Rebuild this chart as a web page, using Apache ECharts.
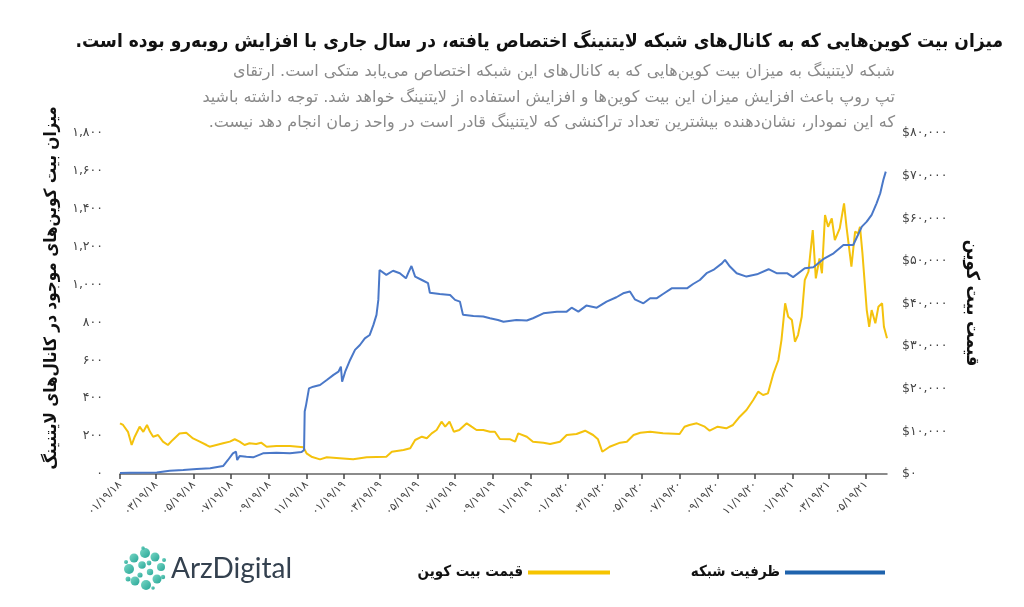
<!DOCTYPE html>
<html>
<head>
<meta charset="utf-8">
<script src="https://cdn.jsdelivr.net/npm/echarts@6/dist/echarts.min.js"></script>
<style>html,body{margin:0;padding:0;background:#fff}#c{width:1024px;height:607px}</style>
</head>
<body>
<div id="c"></div>
<script>
// ---------- DATA ----------
const titleText = 'میزان بیت کوین‌هایی که به کانال‌های شبکه لایتنینگ اختصاص یافته، در سال جاری با افزایش روبه‌رو بوده است.';
const subtitleLines = [
  'شبکه لایتنینگ به میزان بیت کوین‌هایی که به کانال‌های این شبکه اختصاص می‌یابد متکی است. ارتقای',
  'تپ روپ باعث افزایش میزان این بیت کوین‌ها و افزایش استفاده از لایتنینگ خواهد شد. توجه داشته باشید',
  'که این نمودار، نشان‌دهنده بیشترین تعداد تراکنشی که لایتنینگ قادر است در واحد زمان انجام دهد نیست.'
];
const leftAxisName = 'میزان بیت کوین‌های موجود در کانال‌های لایتنینگ';
const rightAxisName = 'قیمت بیت کوین';
const capacityName = 'ظرفیت شبکه';
const priceName = 'قیمت بیت کوین';
const brandName = 'ArzDigital';

const xStart = '2018-01-19';
const xEnd = '2021-06-22';
const tickDates = ['2018-01-19','2018-03-19','2018-05-19','2018-07-19','2018-09-19','2018-11-19',
  '2019-01-19','2019-03-19','2019-05-19','2019-07-19','2019-09-19','2019-11-19',
  '2020-01-19','2020-03-19','2020-05-19','2020-07-19','2020-09-19','2020-11-19',
  '2021-01-19','2021-03-19','2021-05-19'];
const leftTicks = [0, 200, 400, 600, 800, 1000, 1200, 1400, 1600, 1800];
const rightTicks = [0, 10000, 20000, 30000, 40000, 50000, 60000, 70000, 80000];

const capDates = ['2018-01-19','2018-02-04','2018-03-20','2018-04-10','2018-05-02','2018-05-24','2018-06-15','2018-07-06','2018-07-14','2018-07-22','2018-07-27','2018-07-29','2018-08-02','2018-08-13','2018-08-24','2018-09-09','2018-10-01','2018-10-23','2018-11-11','2018-11-15','2018-11-16','2018-11-18','2018-11-23','2018-11-30','2018-12-11','2018-12-22',
  '2019-01-02','2019-01-10','2019-01-14','2019-01-16','2019-01-21','2019-01-29','2019-02-06','2019-02-14','2019-02-22','2019-03-02','2019-03-08','2019-03-13','2019-03-16','2019-03-18','2019-03-21','2019-03-29','2019-04-09','2019-04-20','2019-04-30','2019-05-04','2019-05-09','2019-05-15','2019-05-26','2019-06-05','2019-06-08','2019-06-24','2019-07-11','2019-07-19','2019-07-27','2019-08-01','2019-08-18','2019-09-03','2019-09-14','2019-09-27','2019-10-06','2019-10-27','2019-11-13','2019-11-23','2019-12-10',
  '2020-01-01','2020-01-17','2020-01-25','2020-02-05','2020-02-18','2020-03-06','2020-03-22','2020-04-07','2020-04-18','2020-04-29','2020-05-07','2020-05-21','2020-06-01','2020-06-12','2020-06-22','2020-07-06','2020-07-31','2020-08-10','2020-08-21','2020-09-01','2020-09-12','2020-09-26','2020-10-01','2020-10-09','2020-10-20','2020-11-05','2020-11-22','2020-12-11','2020-12-24',
  '2021-01-10','2021-01-20','2021-02-08','2021-02-22','2021-03-10','2021-03-27','2021-04-12','2021-04-28','2021-05-12','2021-05-20','2021-05-28','2021-06-05','2021-06-11','2021-06-16','2021-06-20'];
const capValues = [5,7,8,17,21,26,30,42,74,109,118,74,95,91,88,109,112,109,116,127,330,360,452,461,470,496,
  523,540,567,487,540,602,655,681,716,734,787,840,919,1077,1068,1051,1073,1060,1033,1063,1098,1042,1024,1007,957,950,945,919,910,840,834,831,822,813,804,813,810,822,848,
  857,857,878,857,889,878,910,933,954,963,922,901,928,928,950,980,980,1003,1024,1060,1077,1112,1130,1095,1060,1042,1054,1081,1060,
  1060,1039,1086,1091,1134,1165,1209,1209,1306,1332,1368,1429,1482,1552,1596];

const priceDates = ['2018-01-19','2018-01-24','2018-02-01','2018-02-07','2018-02-12','2018-02-20','2018-02-26','2018-03-04','2018-03-09','2018-03-14','2018-03-22','2018-03-30','2018-04-07','2018-04-15','2018-04-26','2018-05-07','2018-05-18','2018-05-29','2018-06-09','2018-06-14','2018-06-25','2018-07-06','2018-07-17','2018-07-25','2018-08-02','2018-08-10','2018-08-18','2018-08-29','2018-09-06','2018-09-15','2018-10-01','2018-10-23','2018-11-14','2018-11-19','2018-11-27','2018-12-11','2018-12-22',
  '2019-01-12','2019-02-03','2019-02-25','2019-03-29','2019-04-07','2019-04-26','2019-05-07','2019-05-15','2019-05-26','2019-06-03','2019-06-11','2019-06-19','2019-06-27','2019-07-03','2019-07-10','2019-07-17','2019-07-26','2019-08-07','2019-08-15','2019-08-23','2019-09-03','2019-09-14','2019-09-22','2019-09-30','2019-10-17','2019-10-25','2019-10-30','2019-11-13','2019-11-23','2019-12-10','2019-12-21',
  '2020-01-06','2020-01-17','2020-02-02','2020-02-16','2020-02-29','2020-03-08','2020-03-15','2020-03-27','2020-04-13','2020-04-24','2020-05-05','2020-05-16','2020-06-01','2020-06-22','2020-07-19','2020-07-27','2020-08-04','2020-08-16','2020-08-29','2020-09-06','2020-09-19','2020-10-03','2020-10-14','2020-10-25','2020-11-05','2020-11-16','2020-11-24','2020-12-02','2020-12-10','2020-12-19','2020-12-27',
  '2021-01-01','2021-01-07','2021-01-12','2021-01-18','2021-01-23','2021-01-28','2021-02-03','2021-02-08','2021-02-14','2021-02-21','2021-02-26','2021-03-04','2021-03-08','2021-03-13','2021-03-18','2021-03-24','2021-03-29','2021-04-06','2021-04-13','2021-04-17','2021-04-25','2021-05-01','2021-05-06','2021-05-09','2021-05-13','2021-05-20','2021-05-24','2021-05-28','2021-06-03','2021-06-08','2021-06-14','2021-06-17','2021-06-22'];
const priceValues = [11900,11500,9900,6800,8750,11100,9900,11500,9900,8750,9150,7600,6800,8000,9500,9700,8350,7600,6800,6400,6800,7200,7600,8150,7600,6800,7200,7050,7350,6400,6550,6550,6250,4850,4060,3440,3910,
  3680,3440,3910,4060,5230,5630,6030,7980,8750,8370,9540,10320,12270,11100,12270,9920,10320,11890,11100,10320,10320,9920,9920,8210,8140,7580,9540,8750,7580,7350,7040,
  7580,9150,9380,10160,9150,8140,5230,6400,7350,7580,9150,9690,9920,9540,9380,11100,11500,11890,11100,10160,11100,10720,11500,13450,15010,17360,19310,18530,18920,23620,26740,
  31430,40040,36900,36120,31030,32600,36900,45510,47460,57240,45900,50600,47080,60750,58000,59980,54890,57630,63500,58000,48630,56840,56460,58000,51770,38470,34550,38470,35350,39250,40040,34550,31830];

// ---------- HELPERS ----------
const FA = '۰۱۲۳۴۵۶۷۸۹';
const toFa = s => String(s).replace(/\d/g, d => FA[d]);
const withComma = n => String(n).replace(/\B(?=(\d{3})+(?!\d))/g, ',');
const RLM = '\u200F';
const faFont = "'DejaVu Sans', sans-serif";
const faBold = "'DejaVu Sans Condensed', 'DejaVu Sans', sans-serif";
const ts = d => +echarts.number.parseDate(d);
const pad2 = n => (n < 10 ? '0' : '') + n;
const fmtDate = v => { const d = new Date(v); return toFa(pad2(d.getMonth()+1) + '/' + pad2(d.getDate()) + '/' + pad2(d.getFullYear() % 100)); };

const capData = capDates.map((d, i) => [ts(d), capValues[i]]);
const priceData = priceDates.map((d, i) => [ts(d), priceValues[i]]);
const tickVals = tickDates.map(ts);

const chart = echarts.init(document.getElementById('c'), null, {renderer: 'canvas'});

const logoDots = [];
(function(){
  const cx = 145, cy = 569;
  const pts = [[0,-16,5],[10,-12,4.5],[16,-2,4],[12,10,4.5],[1,16,5],[-10,12,4.5],[-16,0,5],[-11,-11,4.5],[-3,-4,3.8],[5,3,3.2],[-5,6,2.6],[4,-6,2.4],[-19,-7,2],[19,-9,2],[18,8,2.2],[-17,10,2.5],[8,19,1.8],[-2,-21,1.8]];
  pts.forEach(p => logoDots.push({type:'circle', shape:{cx:cx+p[0], cy:cy+p[1], r:p[2]}, style:{fill:{type:'linear',x:0,y:0,x2:1,y2:1,colorStops:[{offset:0,color:'#7ad8c6'},{offset:1,color:'#27a596'}]}}, silent:true}));
})();

const option = {
  backgroundColor: '#fff',
  animation: false,
  grid: {left: 120, right: 137, top: 133, bottom: 133, containLabel: false},
  xAxis: {
    type: 'value', min: ts(xStart), max: ts(xEnd), scale: true,
    axisLine: {show: true, lineStyle: {color: '#666', width: 1.5}},
    axisTick: {show: true, customValues: tickVals, length: 5, lineStyle: {color: '#444', width: 1.5}},
    axisLabel: {customValues: tickVals, rotate: 45, color: '#444', fontSize: 11, fontFamily: faFont, margin: 9, formatter: fmtDate},
    splitLine: {show: false}
  },
  yAxis: [
    {
      type: 'value', min: leftTicks[0], max: leftTicks[leftTicks.length-1], interval: leftTicks[1]-leftTicks[0],
      axisLine: {show: false}, axisTick: {show: false}, splitLine: {show: false},
      axisLabel: {color: '#444', fontSize: 12.5, fontFamily: faFont, margin: 17, formatter: v => toFa(withComma(v))}
    },
    {
      type: 'value', min: rightTicks[0], max: rightTicks[rightTicks.length-1], interval: rightTicks[1]-rightTicks[0],
      axisLine: {show: false}, axisTick: {show: false}, splitLine: {show: false},
      axisLabel: {color: '#444', fontSize: 12.5, fontFamily: faFont, margin: 15, formatter: v => '$' + toFa(withComma(v))}
    }
  ],
  legend: [
    {
      data: [{name: capacityName, itemStyle: {color: '#1f63ad'}}],
      right: 134, top: 560, icon: 'rect', itemWidth: 100, itemHeight: 4, align: 'right', itemGap: 8,
      textStyle: {fontFamily: faBold, fontSize: 15, fontWeight: 'bold', color: '#111'}
    },
    {
      data: [{name: priceName, itemStyle: {color: '#f6c400'}}],
      right: 409, top: 560, icon: 'rect', itemWidth: 82, itemHeight: 4, align: 'right', itemGap: 8,
      textStyle: {fontFamily: faBold, fontSize: 15, fontWeight: 'bold', color: '#111'}
    }
  ],
  series: [
    {name: priceName, type: 'line', yAxisIndex: 1, data: priceData, showSymbol: false,
      lineStyle: {color: '#f4c20d', width: 2}, itemStyle: {color: '#f4c20d'}},
    {name: capacityName, type: 'line', yAxisIndex: 0, data: capData, showSymbol: false,
      lineStyle: {color: '#4a78c8', width: 2}, itemStyle: {color: '#4a78c8'}}
  ],
  graphic: [
    {type: 'text', right: 21, top: 33, style: {text: RLM + titleText + RLM, font: "bold 19px " + faBold, fill: '#111'}},
    {type: 'text', right: 129, top: 64, style: {text: RLM + subtitleLines[0] + RLM, font: "16px " + faFont, fill: '#8a8a8a'}},
    {type: 'text', right: 129, top: 90, style: {text: RLM + subtitleLines[1] + RLM, font: "16px " + faFont, fill: '#8a8a8a'}},
    {type: 'text', right: 129, top: 115, style: {text: RLM + subtitleLines[2] + RLM, font: "16px " + faFont, fill: '#8a8a8a'}},
    {type: 'text', x: 52, y: 288, rotation: Math.PI/2, style: {text: RLM + leftAxisName + RLM, font: "bold 17px " + faBold, fill: '#111', align: 'center', verticalAlign: 'middle'}},
    {type: 'text', x: 972, y: 303, rotation: -Math.PI/2, style: {text: RLM + rightAxisName + RLM, font: "bold 18px " + faBold, fill: '#111', align: 'center', verticalAlign: 'middle'}},
    ...logoDots,
    {type: 'text', x: 171, y: 569, style: {text: brandName, font: "400 28px Lato, 'Noto Sans', sans-serif", fill: '#34414f', verticalAlign: 'middle'}}
  ]
};
chart.setOption(option);
</script>
</body>
</html>
